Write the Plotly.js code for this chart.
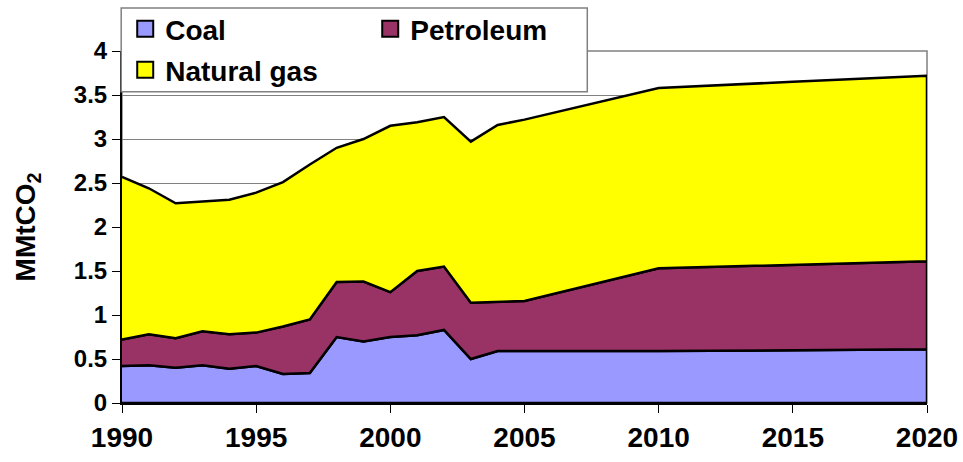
<!DOCTYPE html>
<html>
<head>
<meta charset="utf-8">
<script src="https://cdn.plot.ly/plotly-3.0.1.min.js"></script>
<style>html,body{margin:0;padding:0;background:#fff;}#chart{width:963px;height:462px;}</style>
</head>
<body>
<div id="chart"></div>
<script>
// Data (MMtCO2)
var years = [1990,1991,1992,1993,1994,1995,1996,1997,1998,1999,2000,2001,2002,2003,2004,2005,2010,2015,2020];
var coal = [0.42,0.43,0.40,0.43,0.39,0.42,0.33,0.34,0.75,0.70,0.75,0.77,0.83,0.50,0.59,0.59,0.59,0.60,0.61];
var petroleum = [0.30,0.35,0.335,0.385,0.39,0.38,0.54,0.61,0.625,0.68,0.51,0.73,0.72,0.64,0.56,0.57,0.94,0.97,1.00];
var naturalGas = [1.85,1.66,1.535,1.475,1.53,1.59,1.64,1.76,1.525,1.62,1.89,1.69,1.70,1.83,2.01,2.06,2.05,2.08,2.11];
var seriesNames = ['Coal','Petroleum','Natural gas'];
var seriesColors = ['#9999FF','#993366','#FFFF00'];
var xTicks = [1990,1995,2000,2005,2010,2015,2020];
var yTicks = [0,0.5,1,1.5,2,2.5,3,3.5,4];

var FONT = 'Arial, "Liberation Sans", sans-serif';
var values = [coal, petroleum, naturalGas];
var traces = [];
var base = years.map(function(){return 0;});
values.forEach(function(v, i){
  var top = base.map(function(b, k){ return b + v[k]; });
  var xs = years.concat(years.slice().reverse());
  var ys = top.concat(base.slice().reverse());
  traces.push({
    type:'scatter', mode:'lines', x:xs, y:ys, fill:'toself',
    fillcolor:seriesColors[i], line:{color:'#000', width:2.5},
    showlegend:false, hoverinfo:'skip'
  });
  base = top;
});
// legend entries
values.forEach(function(v, i){
  traces.push({
    type:'scatter', mode:'markers', x:[null], y:[null], name:seriesNames[i],
    marker:{symbol:'square', size:16, color:seriesColors[i], line:{color:'#000', width:2}},
    legend: i < 2 ? 'legend' : 'legend2', showlegend:true
  });
});

var legendFont = {family:FONT, size:28, color:'#000', weight:'bold'};
var layout = {
  width:963, height:462,
  margin:{l:122, r:36, t:51, b:59, pad:0, autoexpand:false},
  paper_bgcolor:'#fff', plot_bgcolor:'#fff',
  showlegend:true,
  xaxis:{
    range:[1990,2020], tickmode:'array', tickvals:xTicks, ticktext:xTicks.map(String),
    showgrid:false, zeroline:false, showline:true, linecolor:'#000', linewidth:2,
    ticks:'outside', ticklen:8, tickcolor:'#000', tickwidth:1,
    tickfont:{family:FONT, size:28, color:'#000', weight:'bold'}
  },
  yaxis:{
    range:[0,4], tickmode:'array', tickvals:yTicks, ticktext:yTicks.map(String),
    showgrid:true, gridcolor:'#808080', gridwidth:1, zeroline:false,
    showline:true, linecolor:'#000', linewidth:2,
    ticks:'outside', ticklen:8, tickcolor:'#000', tickwidth:1,
    tickfont:{family:FONT, size:24, color:'#000', weight:'bold'},
    title:{text:'MMtCO<sub>2</sub>', font:{family:FONT, size:28, color:'#000', weight:'bold'}, standoff:30}
  },
  shapes:[
    {type:'rect', xref:'paper', yref:'paper', x0:0, x1:1, y0:0, y1:1, line:{color:'#808080', width:1.5}, layer:'below'},
    {type:'rect', xref:'paper', yref:'paper', x0:-0.001, x1:0.578, y0:0.884, y1:1.122, fillcolor:'#fff', line:{color:'#808080', width:1.5}, layer:'above'}
  ],
  legend:{
    orientation:'h', x:0.004, y:1.1335, xanchor:'left', yanchor:'top',
    bgcolor:'rgba(0,0,0,0)', borderwidth:0, font:legendFont, entrywidth:200
  },
  legend2:{
    orientation:'h', x:0.004, y:1.017, xanchor:'left', yanchor:'top',
    bgcolor:'rgba(0,0,0,0)', borderwidth:0, font:legendFont
  }
};
Plotly.newPlot('chart', traces, layout, {displayModeBar:false, staticPlot:true});
</script>
</body>
</html>
